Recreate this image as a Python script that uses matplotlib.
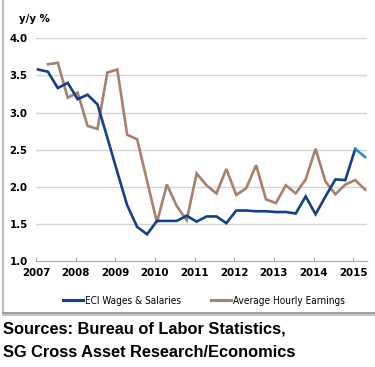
import numpy as np
import matplotlib.pyplot as plt
from matplotlib.lines import Line2D

# Quarterly series, y/y %
eci = [3.58, 3.55, 3.33, 3.40, 3.18, 3.24, 3.11, 2.66, 2.20, 1.75,
       1.46, 1.36, 1.54, 1.54, 1.54, 1.61, 1.53, 1.60, 1.60, 1.51,
       1.68, 1.68, 1.67, 1.67, 1.66, 1.66, 1.64, 1.87, 1.63, 1.87,
       2.10, 2.09, 2.51, 2.40]
ahe = [3.65, 3.67, 3.20, 3.27, 2.82, 2.78, 3.54, 3.58, 2.70, 2.64,
       2.08, 1.52, 2.03, 1.74, 1.55, 2.18, 2.02, 1.91, 2.24, 1.89,
       1.98, 2.29, 1.83, 1.78, 2.02, 1.91, 2.10, 2.51, 2.07, 1.90,
       2.03, 2.09, 1.96]
eci_start = 2007.05
ahe_start = 2007.30
years = list(range(2007, 2016))
yticks = [1.0, 1.5, 2.0, 2.5, 3.0, 3.5, 4.0]

BLUE = "#12408c"
LIGHT_BLUE = "#3a86c8"
BROWN = "#a8806c"

narrow = dict(family="DejaVu Sans", stretch="condensed")

fig = plt.figure(figsize=(3.75, 3.67), dpi=100)
ax = fig.add_axes([0.096, 0.2888, 0.883, 0.6068])

x_eci = eci_start + 0.25 * np.arange(len(eci))
x_ahe = ahe_start + 0.25 * np.arange(len(ahe))

ax.plot(x_ahe, ahe, color=BROWN, lw=1.9, solid_joinstyle="miter", zorder=3)
ax.plot(x_eci[:-1], eci[:-1], color=BLUE, lw=1.9, solid_joinstyle="miter", zorder=4)
ax.plot(x_eci[-2:], eci[-2:], color=LIGHT_BLUE, lw=1.9, zorder=4)

ax.set_xlim(2007, 2015.35)
ax.set_ylim(1.0, 4.0)
ax.set_yticks(yticks)
ax.set_yticklabels([f"{v:.1f}" for v in yticks], fontweight="bold",
                   fontsize=8.2, **narrow)
ax.set_xticks(years)
ax.set_xticklabels([str(y) for y in years], fontweight="bold",
                   fontsize=8.2, **narrow)
ax.tick_params(axis="y", length=0, pad=6)
ax.tick_params(axis="x", direction="in", length=3, color="#aaaaaa", pad=5)
for v in yticks[1:]:
    ax.axhline(v, color="#d4d4d4", lw=1.0, zorder=1)
for s in ["top", "right", "left"]:
    ax.spines[s].set_visible(False)
ax.spines["bottom"].set_color("#aaaaaa")

fig.text(0.05, 0.948, "y/y %", fontweight="bold", fontsize=8.2,
         va="center", **narrow)

handles = [Line2D([], [], color=BLUE, lw=2.2), Line2D([], [], color=BROWN, lw=2.2)]
fig.legend(handles, ["ECI Wages & Salaries", "Average Hourly Earnings"],
           loc="center", bbox_to_anchor=(0.543, 0.181), ncol=2, frameon=False,
           prop={"family": "DejaVu Sans", "stretch": "condensed", "size": 7.2},
           handlelength=2.0, handletextpad=0.2, columnspacing=3.0)

# chart box border
fig.add_artist(Line2D([0.008, 0.008], [0.148, 1.0], color="#b0b0b0", lw=1.2))
fig.add_artist(Line2D([0.008, 1.0], [0.148, 0.148], color="#909090", lw=1.2))
fig.add_artist(Line2D([0.008, 1.0], [0.141, 0.141], color="#b8b8b8", lw=1.2))

fig.text(0.008, 0.104, "Sources: Bureau of Labor Statistics,",
         family=["Liberation Sans", "DejaVu Sans"], fontweight="bold",
         fontsize=11.8, va="center")
fig.text(0.008, 0.040, "SG Cross Asset Research/Economics",
         family=["Liberation Sans", "DejaVu Sans"], fontweight="bold",
         fontsize=11.8, va="center")

fig.savefig("out.png", dpi=100)
